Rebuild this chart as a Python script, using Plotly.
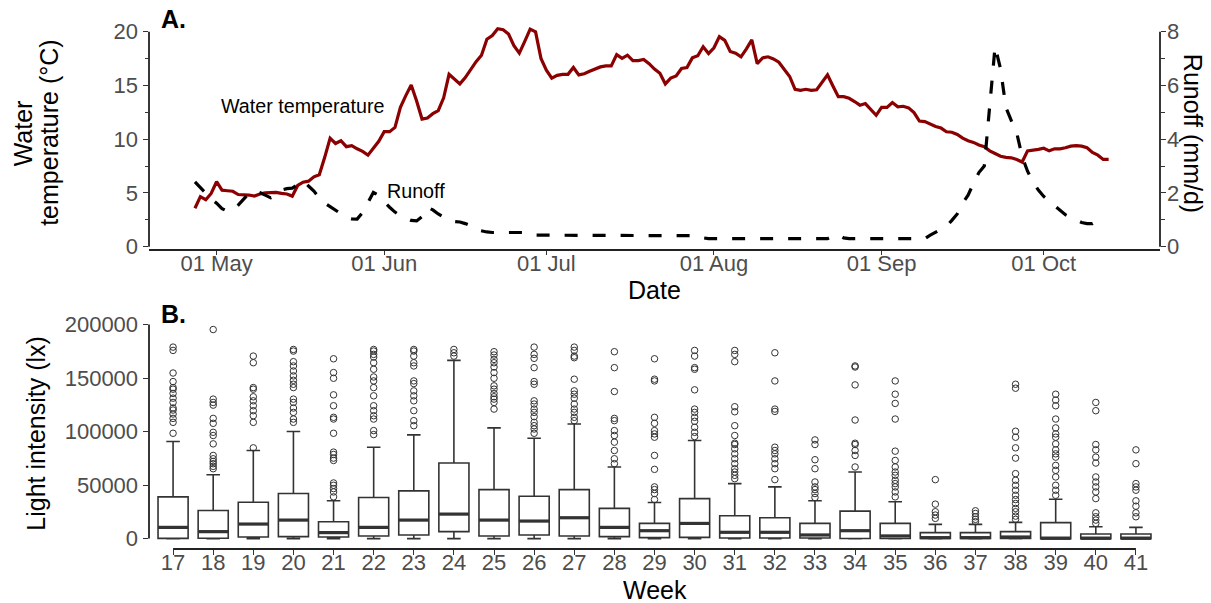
import pandas as pd
import plotly.graph_objects as go

# ---------------- data: panel A (daily, starting 27 Apr) ----------------
start_date = "2019-04-27"
water_temp = [3.58, 4.66, 4.37, 4.96,
              6.05, 5.26, 5.21, 5.16, 4.86, 4.86, 4.81, 4.71, 4.91, 5.01,
              5.06, 5.06, 4.96, 4.91, 4.71, 5.70, 6.00, 6.10, 6.50, 6.69,
              8.32, 10.10, 9.61, 9.86, 9.31, 9.41, 9.11, 8.87, 8.52, 9.11,
              9.81, 10.70, 10.70, 11.10, 12.97, 14.06, 15.05, 13.56, 11.88, 11.98,
              12.38, 12.67, 13.86, 16.04, 15.59, 15.15, 15.74, 16.53, 17.22, 17.82,
              19.30, 19.65, 20.29, 20.19, 19.79, 18.71, 18.01, 19.10, 20.24, 19.99,
              17.52, 16.43, 15.69, 15.94, 16.04, 16.04, 16.68, 15.99, 16.09, 16.33,
              16.53, 16.73, 16.83, 16.83, 17.87, 17.52, 17.82, 17.32, 17.32, 17.42,
              17.03, 16.53, 16.14, 15.15, 15.69, 15.89, 16.58, 16.68, 17.57, 17.77,
              18.61, 17.97, 18.51, 19.55, 19.20, 18.16, 18.01, 17.67, 18.41, 19.25,
              17.03, 17.57, 17.67, 17.47, 17.17, 16.53, 15.84, 14.65, 14.55, 14.65,
              14.55, 14.60, 15.35, 15.99, 14.95, 13.96, 13.96, 13.81, 13.51, 13.17,
              13.32, 12.82, 12.23, 12.97, 12.97, 13.42, 13.02, 13.07, 12.92, 12.48,
              11.69, 11.64, 11.39, 11.19, 11.04, 10.70, 10.65, 10.45, 10.10, 9.86,
              9.71, 9.46, 9.31, 8.92, 8.67, 8.42, 8.32, 8.27, 8.12, 7.88,
              8.92, 8.97, 9.06, 9.16, 8.92, 9.11, 9.11, 9.21, 9.36, 9.41,
              9.36, 9.21, 8.77, 8.52, 8.12, 8.12]

runoff = [2.41, 2.21, 1.97, 1.79,
          1.62, 1.42, 1.32, 1.37, 1.55, 1.79, 1.99, 2.07, 2.02, 1.92,
          1.82, 1.92, 2.11, 2.16, 2.18, 2.31, 2.46, 2.26, 2.07, 1.82,
          1.62, 1.49, 1.37, 1.22, 1.10, 1.04, 1.03, 1.27, 1.67, 2.02,
          1.92, 1.67, 1.47, 1.29, 1.15, 1.05, 0.98, 0.96, 1.12, 1.47,
          1.37, 1.22, 1.09, 0.98, 0.94, 0.92, 0.86, 0.78, 0.63, 0.58,
          0.55, 0.53, 0.53, 0.53, 0.53, 0.53, 0.53, 0.53, 0.48, 0.43,
          0.43, 0.43, 0.43, 0.43, 0.43, 0.43, 0.43, 0.43, 0.43, 0.43,
          0.43, 0.43, 0.43, 0.43, 0.43, 0.43, 0.43, 0.43, 0.43, 0.43,
          0.43, 0.43, 0.43, 0.43, 0.43, 0.43, 0.43, 0.43, 0.43, 0.41,
          0.33, 0.30, 0.30, 0.30, 0.30, 0.30, 0.30, 0.30, 0.30, 0.30,
          0.30, 0.30, 0.30, 0.30, 0.30, 0.30, 0.30, 0.30, 0.30, 0.30,
          0.30, 0.30, 0.30, 0.30, 0.38, 0.46, 0.33, 0.30, 0.30, 0.30,
          0.30, 0.30, 0.30, 0.30, 0.30, 0.30, 0.30, 0.30, 0.30, 0.30,
          0.30, 0.30, 0.43, 0.53, 0.63, 0.76, 0.98, 1.22, 1.62, 1.92,
          2.36, 2.76, 3.00, 5.33, 7.46, 6.62, 5.18, 4.69, 4.24, 3.35,
          2.81, 2.41, 2.11, 1.87, 1.69, 1.52, 1.35, 1.19, 1.09, 1.00,
          0.90, 0.86, 0.86, 0.98, 1.14]

month_ticks = ["2019-05-01", "2019-06-01", "2019-07-01", "2019-08-01",
               "2019-09-01", "2019-10-01"]

# ---------------- data: panel B (weekly light intensity) ----------------
weeks = [17, 18, 19, 20, 21, 22, 23, 24, 25, 26, 27, 28, 29, 30, 31, 32, 33,
         34, 35, 36, 37, 38, 39, 40, 41]
q1 = [200, 300, 1500, 1900, 1500, 2500, 3400, 6500, 2500, 3400, 2500, 1900, 900,
      1200, 600, 600, 600, 100, 100, 50, 50, 50, 0, 0, 0]
median = [10500, 6500, 13600, 17300, 5600, 10500, 17300, 22900, 17300, 16400,
          19500, 10500, 7400, 14200, 5900, 5900, 3400, 7400, 2500, 900, 900,
          1500, 300, 300, 300]
q3 = [39000, 26300, 34000, 42100, 15800, 38400, 44600, 70600, 45800, 39600,
      45800, 28200, 14200, 37400, 21400, 19500, 14200, 25700, 14200, 5600, 5600,
      6500, 14900, 4300, 4300]
lower_whisker = [0, 0, 0, 0, 0, 0, 0, 0, 0, 0, 0, 0, 0, 0, 0, 0, 0, 0, 0, 0, 0,
                 0, 0, 0, 0]
upper_whisker = [90700, 59700, 82300, 100000, 35300, 85400, 96900, 166500,
                 103400, 93800, 107100, 66900, 33700, 91600, 51400, 48300,
                 35300, 62200, 34400, 13300, 13300, 15200, 36800, 11100, 10500]
outliers = [
    [98400, 108600, 112300, 116400, 120100, 122000, 127200, 131200, 135600, 139600, 141100, 146700, 154700, 175800, 178900],
    [65300, 67500, 70000, 72100, 74600, 77700, 88500, 96300, 99300, 107700, 112300, 124700, 127200, 130300, 195300],
    [84800, 108600, 114800, 119500, 124100, 128700, 132500, 139600, 141100, 164300, 170500],
    [108600, 111700, 117900, 122000, 127200, 130300, 141100, 144200, 147900, 152000, 156600, 161300, 165300, 175200, 176700],
    [39000, 43600, 46700, 49800, 52000, 73000, 75200, 78600, 80800, 98400, 111700, 113300, 124100, 134300, 149800, 155100, 168000],
    [97200, 100900, 111700, 114800, 119500, 124100, 133400, 141100, 147300, 151000, 158200, 164300, 169600, 172100, 175200, 176700],
    [105500, 110200, 119500, 128700, 133400, 138000, 144800, 147300, 161300, 164300, 170500, 175200, 176700],
    [170500, 173600, 176700],
    [121000, 127200, 130300, 132500, 135600, 139600, 142700, 149800, 155100, 160300, 164300, 167400, 171500, 174600],
    [98400, 102400, 105500, 108600, 113900, 117900, 121000, 125700, 128700, 144200, 146700, 159700, 168400, 172100, 178900],
    [110200, 113300, 117900, 121000, 125700, 131200, 134900, 138000, 148900, 169000, 170500, 175800, 178900],
    [70000, 74600, 82300, 90100, 96300, 100900, 110200, 112300, 137400, 159700, 174600],
    [36500, 42100, 45800, 48300, 64700, 77700, 94700, 97800, 100900, 107700, 113300, 147300, 148900, 168000],
    [95300, 99300, 104000, 109600, 113300, 117900, 121000, 139000, 158200, 159700, 170500, 175800],
    [56000, 59100, 62200, 65300, 70000, 74600, 79200, 83900, 87900, 89100, 96300, 105500, 118500, 123200, 165300, 172100, 175800],
    [55100, 65300, 70000, 74600, 79200, 82300, 85400, 118800, 121000, 147300, 173600],
    [38400, 42100, 45800, 48300, 52900, 65300, 73700, 87900, 92200],
    [66900, 77700, 82300, 87900, 89100, 110800, 143600, 160300, 161300],
    [39000, 43600, 48300, 51400, 54500, 59100, 62200, 66900, 73000, 81700, 111700, 126300, 134900, 147300],
    [18900, 22000, 25100, 32200, 55100],
    [15800, 18000, 20400, 23500, 26000],
    [18000, 21000, 25100, 28200, 32800, 36500, 40500, 45200, 49800, 54500, 60700, 75200, 84800, 94700, 100300, 140500, 144200],
    [40500, 45200, 49800, 57600, 63800, 68400, 76100, 79200, 82900, 88500, 94700, 97800, 103400, 111700, 124100, 129400, 134900],
    [14200, 17300, 20400, 24100, 37400, 43600, 48300, 52900, 57600, 70600, 76100, 82900, 87900, 119500, 127200],
    [20400, 24100, 30300, 35300, 45200, 48300, 51400, 70000, 82900],
]
light_ticks = [0, 50000, 100000, 150000, 200000]

# ---------------- styling / geometry ----------------
FONT = "Liberation Sans, Arial, Helvetica, sans-serif"
TICK_FONT = dict(family=FONT, size=22, color="#4D4D4D")
TITLE_FONT = dict(family=FONT, size=25, color="black")
AXC = "#222222"
W, H = 1211, 603
ML, MR, MT, MB = 149, 51, 15, 54
PW, PH = W - ML - MR, H - MT - MB


def px(xpix):
    return (xpix - ML) / PW


def py(ypix):
    return 1 - (ypix - MT) / PH


top_bottom = py(247.3)
bot_top = py(317)

dates_t = pd.date_range(start_date, periods=len(water_temp), freq="D")
dates_r = pd.date_range(start_date, periods=len(runoff), freq="D")

fig = go.Figure()

fig.add_trace(go.Scatter(x=dates_t, y=water_temp, mode="lines",
                         line=dict(color="#8B0000", width=3.2),
                         xaxis="x", yaxis="y", hoverinfo="skip"))
fig.add_trace(go.Scatter(x=dates_r, y=runoff, mode="lines",
                         line=dict(color="black", width=3.2, dash="13px,15px"),
                         xaxis="x", yaxis="y2", hoverinfo="skip"))

fig.add_trace(go.Box(x=weeks, q1=q1, median=median, q3=q3,
                     lowerfence=lower_whisker, upperfence=upper_whisker,
                     width=0.75, whiskerwidth=0.45, boxpoints=False,
                     fillcolor="white", line=dict(color="#333333", width=1.6),
                     xaxis="x2", yaxis="y3"))

# thicker median bars (ggplot style)
half = 0.375
mx, my = [], []
for w, m in zip(weeks, median):
    mx += [w - half, w + half, None]
    my += [m, m, None]
fig.add_trace(go.Scatter(x=mx, y=my, mode="lines",
                         line=dict(color="#333333", width=3.2),
                         xaxis="x2", yaxis="y3", hoverinfo="skip"))

ox, oy = [], []
for w, vals in zip(weeks, outliers):
    for v in vals:
        ox.append(w)
        oy.append(v)
fig.add_trace(go.Scatter(x=ox, y=oy, mode="markers",
                         marker=dict(symbol="circle-open", size=6.5,
                                     color="#333333", line=dict(width=1)),
                         xaxis="x2", yaxis="y3", hoverinfo="skip"))

common_tick = dict(ticks="outside", tickcolor="#333333", tickwidth=1.3,
                   tickfont=TICK_FONT, showgrid=False, zeroline=False)

fig.update_layout(
    width=W, height=H, showlegend=False,
    margin=dict(l=ML, r=MR, t=MT, b=MB),
    paper_bgcolor="white", plot_bgcolor="white",
    font=dict(family=FONT),
    xaxis=dict(domain=[0, 1], anchor="y", type="date",
               range=["2019-04-18 12:00", "2019-10-22 12:00"],
               tickvals=month_ticks, tickformat="%d %b", ticklen=4.5,
               ticklabelstandoff=-11,
               showline=True, linecolor=AXC, linewidth=1.8, **common_tick),
    yaxis=dict(domain=[top_bottom, 1], anchor="x", range=[-0.21, 21.28],
               tick0=0, dtick=5, ticklen=5.5, showline=False,
               minor=dict(dtick=2.5, ticks="outside", ticklen=3.5,
                          tickcolor="#333333", tickwidth=1.3, showgrid=False),
               **common_tick),
    yaxis2=dict(overlaying="y", side="right", anchor="x",
                range=[-0.084, 8.512], tick0=0, dtick=2, ticklen=4.5,
                ticklabelstandoff=-3, showline=False,
                minor=dict(dtick=1, ticks="outside", ticklen=3.5,
                           tickcolor="#333333", tickwidth=1.3, showgrid=False),
                **common_tick),
    xaxis2=dict(domain=[0, 1], anchor="y3", range=[16.4, 41.6],
                tickvals=weeks, ticktext=[str(w) for w in weeks], ticklen=4.5,
                ticklabelstandoff=-11, showline=False, **common_tick),
    yaxis3=dict(domain=[0, bot_top], anchor="x2", range=[-9700, 205800],
                tickvals=light_ticks, tickformat="d", ticklen=5.5,
                showline=False, **common_tick),
)

line_style = dict(color=AXC, width=1.8)
fig.add_shape(type="line", xref="x domain", yref="y", x0=0, x1=0, y0=0, y1=20,
              line=line_style)
fig.add_shape(type="line", xref="x domain", yref="y2", x0=1, x1=1, y0=0, y1=8,
              line=line_style)
fig.add_shape(type="line", xref="x2 domain", yref="y3", x0=0, x1=0,
              y0=light_ticks[0], y1=light_ticks[-1], line=line_style)
fig.add_shape(type="line", xref="x2", yref="y3 domain", x0=weeks[0],
              x1=weeks[-1], y0=0, y1=0, line=line_style)

ann = []
# in-plot labels (data coordinates)
ann.append(dict(x="2019-05-16 22:00", y=13.11, xref="x", yref="y",
                text="Water temperature", showarrow=False,
                font=dict(family=FONT, size=19.7, color="black"),
                xanchor="center", yanchor="middle"))
ann.append(dict(x="2019-06-06 23:00", y=5.19, xref="x", yref="y",
                text="Runoff", showarrow=False,
                font=dict(family=FONT, size=19.7, color="black"),
                xanchor="center", yanchor="middle"))
# panel tags
ann.append(dict(x=px(159), y=py(16), xref="paper", yref="paper", text="<b>A.</b>",
                showarrow=False, font=TITLE_FONT, xanchor="left", yanchor="middle"))
ann.append(dict(x=px(159), y=py(313), xref="paper", yref="paper", text="<b>B.</b>",
                showarrow=False, font=TITLE_FONT, xanchor="left", yanchor="middle"))
# axis titles
ann.append(dict(x=px(23), y=py(131), xref="paper", yref="paper", text="Water",
                textangle=-90, showarrow=False, font=TITLE_FONT,
                xanchor="center", yanchor="middle"))
ann.append(dict(x=px(49.5), y=py(131), xref="paper", yref="paper",
                text="temperature (°C)", textangle=-90, showarrow=False,
                font=TITLE_FONT, xanchor="center", yanchor="middle"))
ann.append(dict(x=px(1192.5), y=py(131), xref="paper", yref="paper",
                text="Runoff (mm/d)", textangle=90, showarrow=False,
                font=TITLE_FONT, xanchor="center", yanchor="middle"))
ann.append(dict(x=px(654.5), y=py(289), xref="paper", yref="paper", text="Date",
                showarrow=False, font=TITLE_FONT, xanchor="center", yanchor="middle"))
ann.append(dict(x=px(36), y=py(433), xref="paper", yref="paper",
                text="Light intensity (lx)", textangle=-90, showarrow=False,
                font=TITLE_FONT, xanchor="center", yanchor="middle"))
ann.append(dict(x=px(654.5), y=py(590), xref="paper", yref="paper", text="Week",
                showarrow=False, font=TITLE_FONT, xanchor="center", yanchor="middle"))
fig.update_layout(annotations=ann)

fig.write_html("out.html", config={"displayModeBar": False})
